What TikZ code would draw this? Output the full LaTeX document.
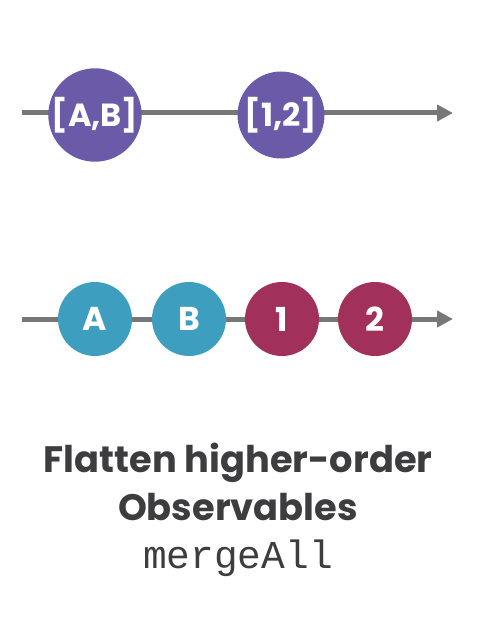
\documentclass[tikz,border=0pt]{standalone}
\usepackage{fontspec}
\setmainfont{Poppins}
\setmonofont{Liberation Mono}
\usetikzlibrary{arrows.meta}
\definecolor{lavender}{HTML}{6A5AA8}
\definecolor{tealc}{HTML}{3E9EC0}
\definecolor{crimson}{HTML}{A1305A}
\definecolor{linegray}{HTML}{777777}
\definecolor{textgray}{HTML}{3D3D3F}
\begin{document}
\begin{tikzpicture}[x=1pt,y=-1pt,
  timeline/.style={draw=linegray,line width=5pt,-{Triangle[length=16pt,width=16pt]}},
  bigball/.style={circle,fill=lavender,minimum size=87pt,inner sep=0pt,text=white,font=\fontsize{32}{32}\selectfont\bfseries},
  ball/.style={circle,minimum size=74pt,inner sep=0pt,text=white,font=\fontsize{33}{33}\selectfont\bfseries},
  title/.style={text=textgray,font=\fontsize{36.8}{40}\selectfont\bfseries,align=center}]
\useasboundingbox (0,0) rectangle (477,623);
\coordinate (t1s) at (22,113);
\coordinate (t1e) at (453,113);
\coordinate (t2s) at (22,319);
\coordinate (t2e) at (453,319);
\draw[timeline] (t1s) -- (t1e);
\draw[timeline] (t2s) -- (t2e);
\node[bigball] (ab) at (95,115) {[A,B]};
\node[bigball] (n12) at (281,115) {[1,2]};
\node[ball,fill=tealc] (a) at (95,319) {A};
\node[ball,fill=tealc] (b) at (189,319) {B};
\node[ball,fill=crimson] (one) at (282,319) {1};
\node[ball,fill=crimson] (two) at (375,319) {2};
\node[title,anchor=base] (t1) at (238,472) {Flatten higher-order};
\node[title,anchor=base] (t2) at (238,520) {Observables};
\node[text=textgray,anchor=base,font=\fontsize{39.5}{40}\ttfamily] (t3) at (238,568) {mergeAll};
\end{tikzpicture}
\end{document}
